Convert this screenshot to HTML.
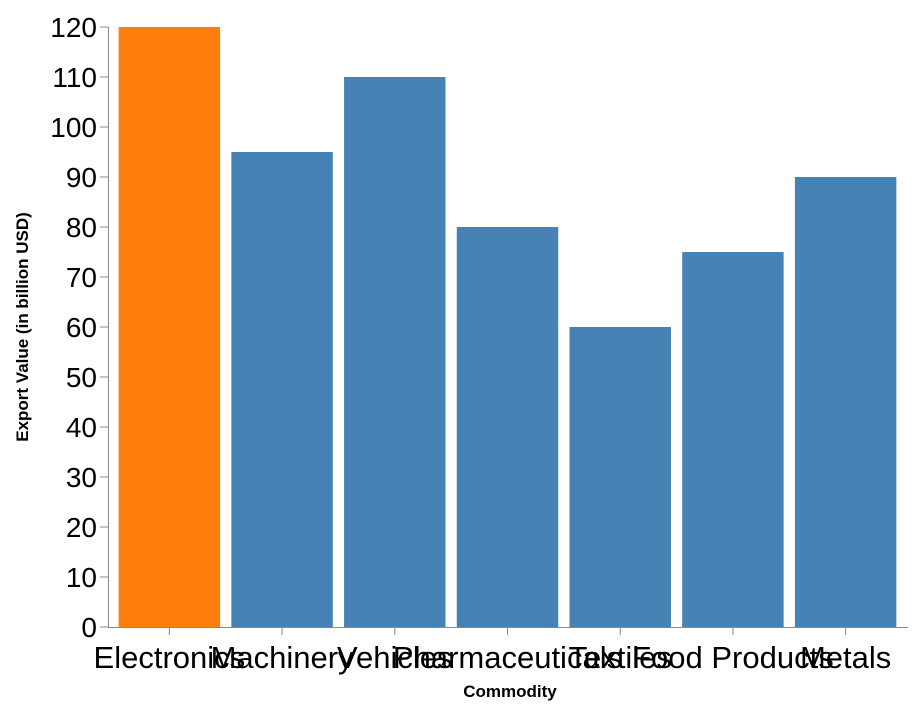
<!DOCTYPE html>
<html><head><meta charset="utf-8"><style>
body{margin:0;background:#fff}
svg{font-family:"Liberation Sans",Arial,sans-serif}
</style></head><body>
<svg id="chart" width="918" height="712"></svg>
<script>
const categories=["Electronics","Machinery","Vehicles","Pharmaceuticals","Textiles","Food Products","Metals"];
const values=[120,95,110,80,60,75,90];
const highlight=["Electronics"];
const yTicks=[0,10,20,30,40,50,60,70,80,90,100,110,120];
const NS="http://www.w3.org/2000/svg";
const svg=document.getElementById("chart");
const x0=113,x1=902,y0=627,y1=27,yMax=120,axX=108;
const step=(x1-x0)/categories.length,pad=0.1;
const xBand=i=>x0+step*i;
const y=v=>y0-(v/yMax)*(y0-y1);
function mk(tag,attrs,parent){const e=document.createElementNS(NS,tag);for(const k in attrs)e.setAttribute(k,attrs[k]);(parent||svg).appendChild(e);return e;}
const grid=mk("g",{});


const dl=mk("line",{x1:axX+0.5,x2:axX+0.5,y1:y1,y2:y0,stroke:"#888"},grid);


yTicks.forEach(t=>{
 const l=mk("line",{x1:axX-8,x2:axX,y1:y(t),y2:y(t),stroke:"#888"},grid);
 
 
 const tx=mk("text",{x:axX-11,y:y(t)+10,"text-anchor":"end","font-size":"28",fill:"#000"},grid);
 tx.textContent=t;
 
 
});
const bars=mk("g",{});


categories.forEach((c,i)=>{
 const bx=xBand(i)+step*pad/2,bw=step*(1-pad);
 const r=mk("rect",{x:bx,y:y(values[i]),width:bw,height:y0-y(values[i]),fill:highlight.includes(c)?"#ff7f0e":"#4682b4"},bars);
 
 
 const cx=xBand(i)+step/2;
 const tk=mk("line",{x1:cx,x2:cx,y1:y0,y2:y0+8,stroke:"#888"},bars);
 
 
 const t=mk("text",{x:cx,y:668,"text-anchor":"middle","font-size":"31",fill:"#000"},bars);
 t.textContent=c;
 
 
});
const xl=mk("line",{x1:axX,x2:908,y1:y0+0.5,y2:y0+0.5,stroke:"#888"});


const xt=mk("text",{x:510,y:697,"text-anchor":"middle","font-size":"17","font-weight":"bold"});
xt.textContent="Commodity";


const yt=mk("text",{x:0,y:0,"text-anchor":"middle","font-size":"17","font-weight":"bold",transform:"translate(28,327) rotate(-90)"});
yt.textContent="Export Value (in billion USD)";


</script>
</body></html>
